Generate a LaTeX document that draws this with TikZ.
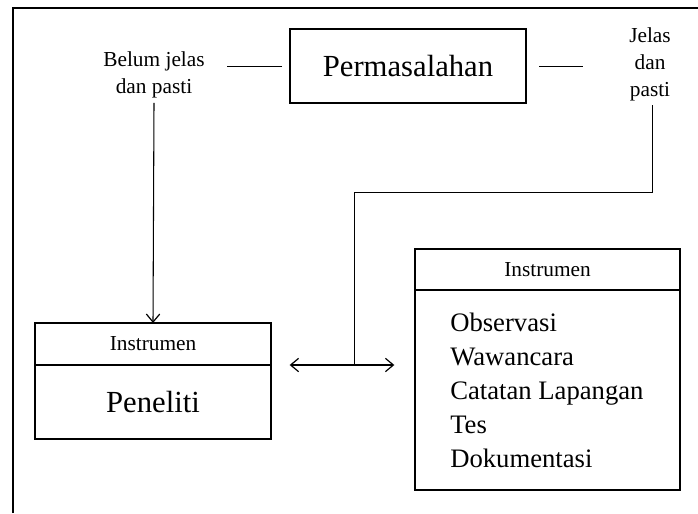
\documentclass[tikz,border=0pt]{standalone}
\usepackage{fontspec}
\setmainfont{Liberation Serif}
\usetikzlibrary{positioning,arrows.meta}

\begin{document}
\begin{tikzpicture}[
        x=0.75pt, y=-0.75pt,
        box/.style={draw, line width=1.1pt, inner sep=0pt, outer sep=0pt, minimum width=177pt},
        head/.style={box, minimum height=31.5pt, font=\fontsize{16}{18}\selectfont},
        note/.style={align=center, font=\fontsize{16}{20.25}\selectfont},
        link/.style={line width=0.7pt},
        arrow/.style={->, >={Straight Barb[length=6pt, width=10pt, line width=0.9pt]}, line width=0.8pt}
    ]
    \useasboundingbox (0,0) rectangle (698,513);
    \draw[line width=1.2pt] (13,513) -- (13,8) -- (698,8);

    % top row
    \node[box, minimum height=55.5pt, font=\fontsize{23}{26}\selectfont] (masalah) at (408,66) {Permasalahan};
    \node[note] (belum) at (154,75) {Belum jelas\\dan pasti};
    \node[note] (jelas) at (650,64) {Jelas\\dan\\pasti};

    \draw[link, shorten <=6pt, shorten >=13pt] (masalah.west) -- (masalah.west -| belum.east);
    \draw[link, shorten <=9.75pt, shorten >=31pt] (masalah.east) -- (masalah.east -| jelas.west);

    % left side
    \node[head] (insL) at (153,344) {Instrumen};
    \node[box, below=0pt of insL, minimum height=55.5pt, font=\fontsize{23}{26}\selectfont] (peneliti) {Peneliti};

    \draw[arrow] (belum.south) -- (insL.north);

    % right side
    \node[head, minimum width=198.75pt, minimum height=30.75pt] (insR) at (547.5,269.5) {Instrumen};
    \node[box, below=0pt of insR, minimum width=198.75pt, minimum height=150pt] (daftar) {};
    \node[anchor=west, align=left, inner sep=0pt, font=\fontsize{20}{25.5}\selectfont] (isi) at ([xshift=26.25pt]daftar.west) {Observasi\\Wawancara\\Catatan Lapangan\\Tes\\Dokumentasi};

    % connector between both sides
    \coordinate (tengah) at (354,366);
    \coordinate (siku) at (354,192);
    \draw[link] ([xshift=2pt]jelas.south) |- (siku) -- (tengah);
    \draw[arrow, <->, shorten <=14pt, shorten >=15.5pt] (insL.south east) -- (insL.south east -| daftar.west);

\end{tikzpicture}
\end{document}
